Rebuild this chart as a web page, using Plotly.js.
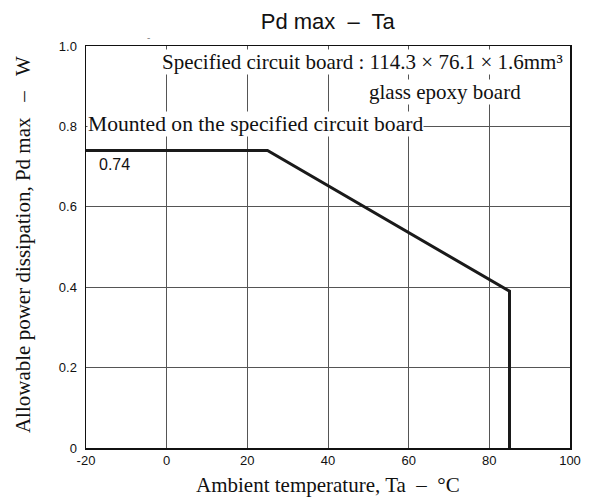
<!DOCTYPE html>
<html>
<head>
<meta charset="utf-8">
<script src="https://cdn.plot.ly/plotly-3.0.1.min.js"></script>
<style>html,body{margin:0;padding:0;background:#fff;}#chart{width:596px;height:503px;}</style>
</head>
<body>
<div id="chart"></div>
<script>
const temperature = [-20, 25, 85, 85];
const powerDissipation = [0.74, 0.74, 0.39, 0];
const xTickVals = [-20, 0, 20, 40, 60, 80, 100];
const xTickText = ["-20", "0", "20", "40", "60", "80", "100"];
const yTickVals = [0, 0.2, 0.4, 0.6, 0.8, 1.0];
const yTickText = ["0", "0.2", "0.4", "0.6", "0.8", "1.0"];

const serif = "Liberation Serif, Times New Roman, serif";
const sans = "Liberation Sans, Arial, sans-serif";

const trace = {
  x: temperature, y: powerDissipation, type: "scatter", mode: "lines",
  line: {color: "#1a1a1a", width: 3}, hoverinfo: "skip"
};

const layout = {
  width: 596, height: 503,
  margin: {l: 86, r: 26, t: 46, b: 55},
  paper_bgcolor: "#fff", plot_bgcolor: "#fff",
  showlegend: false,
  title: {text: "Pd max  \u2013  Ta", font: {family: sans, size: 22, color: "#111"}, x: 0.55, xanchor: "center", y: 0.973, yanchor: "top"},
  xaxis: {
    range: [-20, 100], tickvals: xTickVals, ticktext: xTickText,
    showgrid: true, gridcolor: "#555", gridwidth: 1, zeroline: false,
    showline: true, linecolor: "#111", linewidth: 1.5, mirror: true,
    ticks: "", tickfont: {family: sans, size: 13, color: "#111"}
  },
  yaxis: {
    range: [0, 1.0], tickvals: yTickVals, ticktext: yTickText,
    showgrid: true, gridcolor: "#555", gridwidth: 1, zeroline: false,
    showline: true, linecolor: "#111", linewidth: 1.5, mirror: true,
    ticks: "", ticklabelstandoff: 5, tickfont: {family: sans, size: 13, color: "#111"}
  },
  annotations: [
    {xref: "paper", yref: "paper", x: 0.5, y: -0.093, xanchor: "center", yanchor: "middle",
     text: "Ambient temperature, Ta  \u2013  \u00B0C", showarrow: false,
     font: {family: serif, size: 21, color: "#111"}},
    {xref: "paper", yref: "paper", x: -0.13, y: 0.505, xanchor: "center", yanchor: "middle", textangle: -90,
     text: "Allowable power dissipation, Pd max   \u2013   W", showarrow: false,
     font: {family: serif, size: 21, color: "#111"}},
    {xref: "paper", yref: "paper", x: 0.988, y: 0.96, xanchor: "right", yanchor: "middle",
     text: "Specified circuit board : 114.3 \u00D7 76.1 \u00D7 1.6mm\u00B3", showarrow: false,
     font: {family: serif, size: 21, color: "#111"}, bgcolor: "#fff", borderpad: 0},
    {xref: "paper", yref: "paper", x: 0.742, y: 0.886, xanchor: "center", yanchor: "middle",
     text: "glass epoxy board", showarrow: false,
     font: {family: serif, size: 21, color: "#111"}, bgcolor: "#fff", borderpad: 0},
    {xref: "paper", yref: "y", x: 0.003, y: 0.805, xanchor: "left", yanchor: "middle",
     text: "Mounted on the specified circuit board", showarrow: false,
     font: {family: serif, size: 21.6, color: "#111"}, bgcolor: "#fff", borderpad: 0},
    {xref: "paper", yref: "y", x: 0.023, y: 0.705, xanchor: "left", yanchor: "middle",
     text: "0.74", showarrow: false,
     font: {family: sans, size: 16, color: "#111"}, bgcolor: "rgba(0,0,0,0)"},
    {xref: "paper", yref: "paper", x: 0.13, y: 1.02, xanchor: "center", yanchor: "middle",
     text: "-", showarrow: false, font: {family: sans, size: 10, color: "#888"}}
  ]
};

Plotly.newPlot("chart", [trace], layout, {staticPlot: true, displayModeBar: false});
</script>
</body>
</html>
